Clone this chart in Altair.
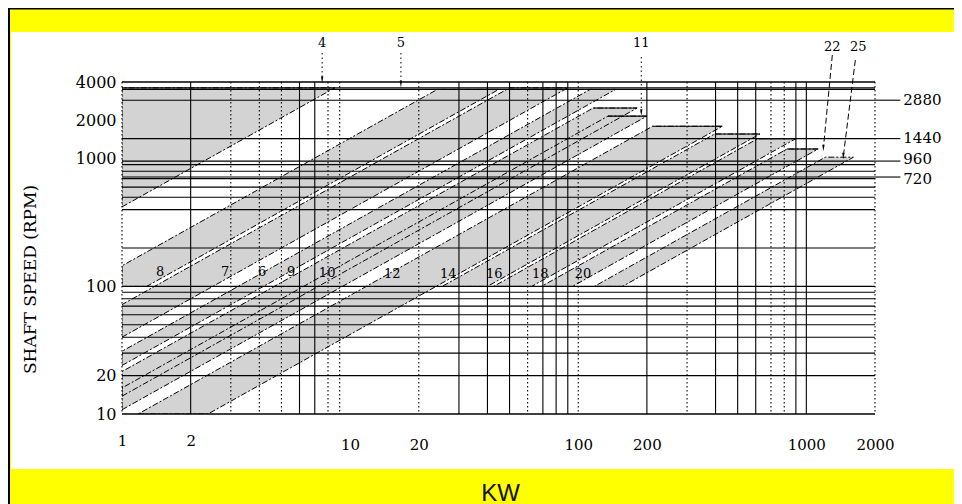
import altair as alt
import pandas as pd

# ---------------- values ----------------
x_tick_values = [1, 2, 10, 20, 100, 200, 1000, 2000]
y_tick_values = [10, 20, 100, 1000, 2000, 4000]

h_lines_rpm = [20, 30, 40, 50, 60, 70, 80, 90, 100, 200, 400, 500, 600,
               700, 720, 800, 900, 960, 1440, 2880, 3500, 3600]
h_border_rpm = [10, 4000]
v_solid_kw = [2, 6, 7, 30, 40, 50, 70, 80, 90, 200, 400, 500, 600, 900, 1000]
v_dotted_kw = [1, 3, 4, 5, 8, 9, 20, 60, 100, 300, 700, 800, 2000]

right_speeds = [2880, 1440, 960, 720]
right_labels = ["2880", "1440", "960", "720"]
right_label_rpm = [2900, 1450, 1000, 700]
right_line_from_kw = 2000
right_line_to_kw = 2584
right_label_kw = 2662

# bands: edges are lines of constant rpm/kW ratio
band_names = ["4", "8", "7", "6", "9", "10", "12", "14", "16", "18", "20"]
band_c_low = [420, 78, 40, 24, 13.8, 10.8, 4.2, 2.5, 1.6, 1.06, 0.64]
band_c_high = [1e6, 145, 72, 31, 21.5, 16, 8.5, 3.95, 2.35, 1.45, 0.85]
band_rpm_min = [10, 100, 10, 10, 10, 10, 10, 100, 100, 100, 100]
band_rpm_max = [3600, 3500, 3600, 3500, 2500, 2160, 1800, 1565, 1440, 1194, 1030]
band_solid_cap = [False, False, False, False, True, True, True, True, True, True, False]

band_label_text = ["8", "7", "6", "9", "10", "12", "14", "16", "18", "20"]
band_label_kw = [1.47, 2.83, 4.11, 5.51, 7.93, 15.3, 26.9, 42.8, 68.1, 105]
band_label_rpm = [130, 130, 130, 130, 127, 125, 125, 125, 125, 125]

top_text = ["4", "5", "11", "22", "25"]
top_kw = [7.54, 16.7, 189, 1300, 1690]
top_rpm = [8080, 8080, 8080, 7520, 7520]
ptr_from_kw = [7.54, 16.7, 189, 1300, 1640]
ptr_from_rpm = [6750, 6750, 6280, 6510, 5940]
ptr_to_kw = [7.54, 16.7, 189, 1188, 1453]
ptr_to_rpm = [4150, 3855, 2300, 1216, 1052]
ptr_dotted = [True, True, True, False, False]

# ---------------- tables built from the arrays ----------------
KMIN, KMAX = 1, 2000
area_rows, outline_rows, cap_rows = [], [], []
for name, cl, ch, rmin, rmax, solid in zip(band_names, band_c_low, band_c_high,
                                           band_rpm_min, band_rpm_max, band_solid_cap):
    start = max(rmin / ch, KMIN)
    end = min(rmax / cl, KMAX)
    ks = sorted(set([start, end] + [k for k in (rmin / cl, rmax / ch) if start < k < end]))
    pts = [(k, max(rmin, cl * k), min(rmax, ch * k)) for k in ks]
    for k, lo, hi in pts:
        area_rows.append({"band": name, "kw": k, "lo": lo, "hi": hi})
    ring = [(k, lo) for k, lo, hi in pts] + [(k, hi) for k, lo, hi in reversed(pts)]
    ring.append(ring[0])
    for i, (k, r) in enumerate(ring):
        outline_rows.append({"band": name, "kw": k, "rpm": r, "i": i})
    if solid:
        cap_rows.append({"band": name, "kw": rmax / ch, "kw2": rmax / cl, "rpm": rmax})

area_df = pd.DataFrame(area_rows)
outline_df = pd.DataFrame(outline_rows)
cap_df = pd.DataFrame(cap_rows)
hdf = pd.DataFrame({"rpm": h_lines_rpm})
hbdf = pd.DataFrame({"rpm": h_border_rpm})
vsdf = pd.DataFrame({"kw": v_solid_kw})
vddf = pd.DataFrame({"kw": v_dotted_kw})
rdf = pd.DataFrame({"rpm": right_speeds, "label": right_labels, "lrpm": right_label_rpm,
                    "kw": [right_line_from_kw] * 4, "kw2": [right_line_to_kw] * 4,
                    "kwl": [right_label_kw] * 4})
bldf = pd.DataFrame({"t": band_label_text, "kw": band_label_kw, "rpm": band_label_rpm})
tdf = pd.DataFrame({"t": top_text, "kw": top_kw, "rpm": top_rpm,
                    "fk": ptr_from_kw, "fr": ptr_from_rpm,
                    "tk": ptr_to_kw, "tr": ptr_to_rpm, "dotted": ptr_dotted})

# ---------------- layout ----------------
W, H = 753, 332
PAD = {"left": 114, "top": 74, "right": 79, "bottom": 90}
TOTAL_W = W + PAD["left"] + PAD["right"]
TOTAL_H = H + PAD["top"] + PAD["bottom"]
SERIF = "DejaVu Serif"

xs = alt.Scale(type="log", domain=[1, 2000], nice=False)
ys = alt.Scale(type="log", domain=[10, 4000], nice=False)
x_axis = alt.Axis(values=x_tick_values, format="d", title="KW", grid=False, ticks=False,
                  domain=False, labelFont=SERIF, labelFontSize=15, labelColor="black",
                  labelFlush=False, labelOverlap=False, zindex=2,
                  labelPadding={"condition": {"test": "datum.value < 5", "value": 19}, "value": 23},
                  titleFont="Liberation Sans", titleFontSize=24, titleFontWeight="normal",
                  titleColor="#111111", titleX=378, titleY=86, titleBaseline="alphabetic",
                  titleAlign="center")
y_axis = alt.Axis(values=y_tick_values, format="d", title="SHAFT SPEED (RPM)", grid=False,
                  ticks=False, domain=False, labelFont=SERIF, labelFontSize=16,
                  labelColor="black", labelFlush=False, labelOverlap=False, labelPadding=6,
                  zindex=2,
                  titleFont=SERIF, titleFontSize=17, titleFontWeight="normal",
                  titleColor="black", titleAngle=270, titleX=-92, titleY=197,
                  titleAlign="center", titleBaseline="middle")


def X(f):
    return alt.X(f, type="quantitative", scale=xs, axis=x_axis)


def Y(f):
    return alt.Y(f, type="quantitative", scale=ys, axis=y_axis)


one = alt.Data(values=[{}])
panel = alt.Chart(one).mark_rect(color="white").encode(
    x=alt.value(-111), x2=alt.value(TOTAL_W - PAD["left"]),
    y=alt.value(-50), y2=alt.value(387))
frame_left = alt.Chart(one).mark_rect(color="black").encode(
    x=alt.value(-PAD["left"]), x2=alt.value(-PAD["left"] + 2),
    y=alt.value(-PAD["top"]), y2=alt.value(TOTAL_H - PAD["top"]))
frame_top = alt.Chart(one).mark_rect(color="black").encode(
    x=alt.value(-PAD["left"]), x2=alt.value(TOTAL_W - PAD["left"]),
    y=alt.value(-PAD["top"]), y2=alt.value(-PAD["top"] + 1.5))

bands = alt.Chart(area_df).mark_area(color="#d3d3d3", opacity=1, clip=True).encode(
    x=X("kw"), y=Y("lo"), y2="hi", detail="band:N")

grid_h = alt.Chart(hdf).mark_rule(color="black", strokeWidth=1.1).encode(y=Y("rpm"))
grid_hb = alt.Chart(hbdf).mark_rule(color="black", strokeWidth=1.6).encode(y=Y("rpm"))
grid_vs = alt.Chart(vsdf).mark_rule(color="black", strokeWidth=1.1).encode(x=X("kw"))
grid_vd = alt.Chart(vddf).mark_rule(color="black", strokeWidth=1.1,
                                    strokeDash=[1.5, 2.5]).encode(x=X("kw"))

outlines = alt.Chart(outline_df).mark_line(color="black", strokeWidth=1,
                                           strokeDash=[6, 2, 2, 2], clip=True).encode(
    x=X("kw"), y=Y("rpm"), detail="band:N", order="i:Q")
caps = alt.Chart(cap_df).mark_rule(color="black", strokeWidth=1.1).encode(
    x=X("kw"), x2="kw2", y=Y("rpm"))

right_lines = alt.Chart(rdf).mark_rule(color="black", strokeWidth=1.1, clip=False).encode(
    x=X("kw"), x2="kw2", y=Y("rpm"))
right_text = alt.Chart(rdf).mark_text(align="left", baseline="middle", font=SERIF,
                                      fontSize=15, color="black", clip=False).encode(
    x=X("kwl"), y=Y("lrpm"), text="label:N")

ptr_dot = alt.Chart(tdf[tdf["dotted"]]).mark_rule(
    color="black", strokeWidth=1, strokeDash=[1.5, 3], clip=False).encode(
    x=X("fk"), x2="tk", y=Y("fr"), y2="tr")
ptr_dash = alt.Chart(tdf[~tdf["dotted"]]).mark_rule(
    color="black", strokeWidth=1, strokeDash=[6, 3], clip=False).encode(
    x=X("fk"), x2="tk", y=Y("fr"), y2="tr")
heads = alt.Chart(tdf).mark_point(shape="M-0.35,-1L0.35,-1L0,1Z", filled=True, size=45,
                                  color="black", opacity=1, clip=False).encode(
    x=X("tk"), y=Y("tr"))
top_labels = alt.Chart(tdf).mark_text(font=SERIF, fontSize=13, color="black",
                                      baseline="middle", clip=False).encode(
    x=X("kw"), y=Y("rpm"), text="t:N")
band_labels = alt.Chart(bldf).mark_text(font=SERIF, fontSize=13, color="black",
                                        baseline="middle").encode(
    x=X("kw"), y=Y("rpm"), text="t:N")

chart = alt.layer(
    panel, frame_left, frame_top, bands, grid_h, grid_vs, grid_vd, grid_hb,
    outlines, caps, right_lines, right_text, ptr_dot, ptr_dash, heads,
    top_labels, band_labels
).properties(
    width=W, height=H, padding=PAD,
    autosize=alt.AutoSizeParams(type="none"),
    background="#FFFF00",
).configure_view(stroke=None)

chart.save("out.html", embed_options={"renderer": "svg", "actions": False})
